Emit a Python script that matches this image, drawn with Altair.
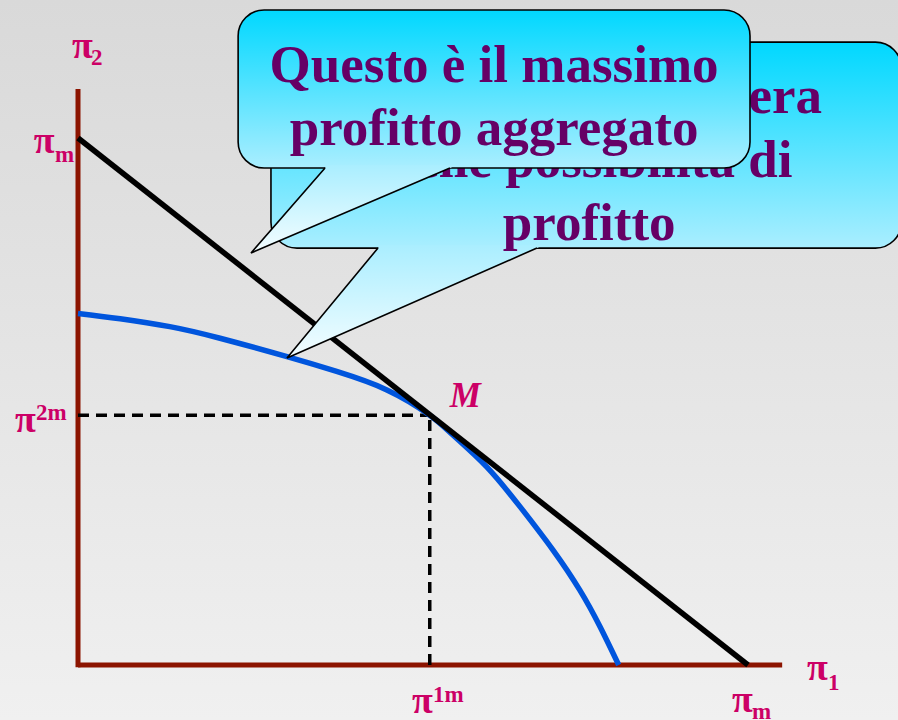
import altair as alt
import pandas as pd

# Profit possibility frontier (pi1, pi2), in units where the monopoly profit pi_m = 100
frontier_pi1 = [0, 6.3, 13.7, 21.2, 31.2, 38.6, 46.1, 52.5, 56.0, 61.0, 66.0, 70.9, 74.9, 77.9, 80.7]
frontier_pi2 = [66.7, 65.7, 64.2, 62.0, 58.5, 55.7, 52.2, 47.4, 43.6, 37.6, 30.0, 21.8, 14.2, 7.3, 0]

# Maximum joint profit line: pi1 + pi2 = pi_m
pi_m = 100
# Tangency point M = (pi^1m, pi^2m)
m_pi1, m_pi2 = 52.5, 47.4

# Axis extents
pi1_axis_end = 105.1
pi2_axis_end = 109.3

front_lines = ["Questo è il massimo", "profitto aggregato"]
back_lines = ["Questa è la frontiera", "delle possibilità di", "profitto"]

# ---- annotation layout (data units) ----
front_box = dict(x=23.9, x2=100.3, y=94.3, y2=124.3)
back_box = dict(x=28.8, x2=122.9, y=79.1, y2=118.2)
front_tail_edge = ([36.87, 25.82, 55.52], [94.31, 78.18, 94.31])
front_tail_fill = ([37.25, 25.82, 56.57], [94.88, 78.18, 94.88])
back_tail_edge = ([44.78, 31.19, 68.51], [79.13, 58.25, 79.13])
back_tail_fill = ([45.15, 31.19, 69.52], [79.70, 58.25, 79.70])
front_text_x, front_text_y = 62.1, [110.6, 98.7]
back_text_x, back_text_y = 76.3, [104.7, 92.6, 80.65]

pi_glyph_pos = [(-0.9, 115.2), (-6.6, 97.2), (-9.4, 44.2), (49.85, -9.1), (97.6, -8.9), (108.8, -2.85)]
script_text = ["2", "m", "2m", "1m", "m", "1"]
script_pos = [(1.94, 113.85), (-3.43, 95.45), (-6.27, 46.5), (52.99, -7.0), (100.6, -10.25), (111.94, -4.74)]
m_label_pos = (55.5, 49.0)

PINK = "#CC0066"
PURPLE = "#660066"
AXIS_RED = "#8C1400"

X_DOMAIN = [-11.6418, 122.3881]
Y_DOMAIN = [-10.4364, 126.1860]


def xenc(field="x"):
    return alt.X(f"{field}:Q", scale=alt.Scale(domain=X_DOMAIN, nice=False, zero=False), axis=None)


def yenc(field="y"):
    return alt.Y(f"{field}:Q", scale=alt.Scale(domain=Y_DOMAIN, nice=False, zero=False), axis=None)


def vgrad(top, bottom):
    return alt.LinearGradient(
        gradient="linear",
        stops=[alt.GradientStop(color=top, offset=0), alt.GradientStop(color=bottom, offset=1)],
        x1=0, x2=0, y1=0, y2=1,
    )


# background wash
background = alt.Chart(alt.Data(values=[{}])).mark_rect(fill=vgrad("#D9D9D9", "#F0F0F0")).encode(
    x=alt.value(0), x2=alt.value(898), y=alt.value(0), y2=alt.value(720)
)

# axes
axes_df = pd.DataFrame({"x": [0, 0], "y": [-0.45, 0], "x2": [0, pi1_axis_end], "y2": [pi2_axis_end, 0]})
axes = alt.Chart(axes_df).mark_rule(color=AXIS_RED, strokeWidth=5).encode(
    x=xenc(), y=yenc(), x2="x2:Q", y2="y2:Q"
)

# dashed guides to M
guides_df = pd.DataFrame({"x": [0, m_pi1], "y": [m_pi2, 0], "x2": [m_pi1, m_pi1], "y2": [m_pi2, m_pi2]})
guides = alt.Chart(guides_df).mark_rule(color="black", strokeWidth=3.5, strokeDash=[11, 7]).encode(
    x=xenc(), y=yenc(), x2="x2:Q", y2="y2:Q"
)

# frontier curve
curve_df = pd.DataFrame({"x": frontier_pi1, "y": frontier_pi2, "i": range(len(frontier_pi1))})
curve = alt.Chart(curve_df).mark_line(color="#0055DD", strokeWidth=5.5, interpolate="natural").encode(
    x=xenc(), y=yenc(), order="i:Q"
)

# joint profit line
line_df = pd.DataFrame({"x": [0, pi_m], "y": [pi_m, 0]})
joint = alt.Chart(line_df).mark_line(color="black", strokeWidth=5.5).encode(x=xenc(), y=yenc())


def bubble(box, tail_fill, tail_edge, lines, tx, ty):
    box_df = pd.DataFrame([box])
    body = alt.Chart(box_df).mark_rect(
        cornerRadius=26, fill=vgrad("#00D8FF", "#AAEEFF"), stroke="black", strokeWidth=1.6
    ).encode(x=xenc(), x2="x2:Q", y=yenc(), y2="y2:Q")
    fill_df = pd.DataFrame({"x": tail_fill[0], "y": tail_fill[1], "i": [0, 1, 2]})
    tail = alt.Chart(fill_df).mark_line(
        fill=vgrad("#AAEEFF", "#F4FDFF"), strokeOpacity=0
    ).encode(x=xenc(), y=yenc(), order="i:Q")
    edge_df = pd.DataFrame({"x": tail_edge[0], "y": tail_edge[1], "i": [0, 1, 2]})
    edge = alt.Chart(edge_df).mark_line(color="black", strokeWidth=1.6, strokeJoin="miter").encode(
        x=xenc(), y=yenc(), order="i:Q"
    )
    text_df = pd.DataFrame({"x": [tx] * len(lines), "y": ty, "t": lines})
    text = alt.Chart(text_df).mark_text(
        font="Liberation Serif", fontWeight="bold", fontSize=53, color=PURPLE,
        align="center", baseline="alphabetic"
    ).encode(x=xenc(), y=yenc(), text="t:N")
    return [body, tail, edge, text]


back = bubble(back_box, back_tail_fill, back_tail_edge, back_lines, back_text_x, back_text_y)
front = bubble(front_box, front_tail_fill, front_tail_edge, front_lines, front_text_x, front_text_y)

# axis symbols
pi_df = pd.DataFrame({"x": [p[0] for p in pi_glyph_pos], "y": [p[1] for p in pi_glyph_pos], "t": ["π"] * 6})
pis = alt.Chart(pi_df).mark_text(
    font="Liberation Serif", fontWeight="bold", fontSize=38, color=PINK, align="left", baseline="alphabetic"
).encode(x=xenc(), y=yenc(), text="t:N")

sc_df = pd.DataFrame({"x": [p[0] for p in script_pos], "y": [p[1] for p in script_pos], "t": script_text})
scripts = alt.Chart(sc_df).mark_text(
    font="Liberation Serif", fontWeight="bold", fontSize=23, color=PINK, align="left", baseline="alphabetic"
).encode(x=xenc(), y=yenc(), text="t:N")

m_df = pd.DataFrame({"x": [m_label_pos[0]], "y": [m_label_pos[1]], "t": ["M"]})
m_label = alt.Chart(m_df).mark_text(
    font="Liberation Serif", fontWeight="bold", fontStyle="italic", fontSize=35, color=PINK,
    align="left", baseline="alphabetic"
).encode(x=xenc(), y=yenc(), text="t:N")

chart = alt.layer(
    background, axes, guides, curve, joint, *back, *front, pis, scripts, m_label
).properties(
    width=898, height=720, padding=0, autosize="none"
).configure_view(strokeWidth=0)

chart.save("out.html", embed_options={"renderer": "svg", "actions": False})
